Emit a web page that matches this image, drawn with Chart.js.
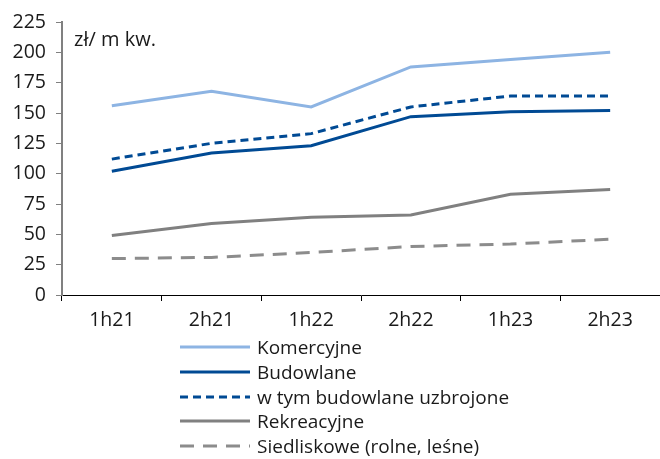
<!DOCTYPE html>
<html>
<head>
<meta charset="utf-8">
<script src="https://cdn.jsdelivr.net/npm/chart.js@4"></script>
<style>
  body { margin: 0; background: #fff; font-family: "Open Sans", sans-serif; }
  #wrap { position: relative; width: 660px; height: 459px; }
  #chartBox { position: absolute; left: 0; top: 0; width: 660px; height: 335px; }
  #legend { position: absolute; left: 180px; top: 335px; font-size: 19px; color: #1a1a1a; }
  .item { height: 24.7px; display: flex; align-items: center; }
  .item svg { width: 70px; height: 6px; margin-right: 7px; }
</style>
</head>
<body>
<div id="wrap">
  <div id="chartBox"><canvas id="landChart"></canvas></div>
  <div id="legend"></div>
</div>
<script>
// Data
const periods = ['1h21', '2h21', '1h22', '2h22', '1h23', '2h23'];
const komercyjne = [156, 168, 155, 188, 194, 200];
const budowlane = [102, 117, 123, 147, 151, 152];
const uzbrojone = [112, 125, 133, 155, 164, 164];
const rekreacyjne = [49, 59, 64, 66, 83, 87];
const siedliskowe = [30, 31, 35, 40, 42, 46];
const yTicks = [0, 25, 50, 75, 100, 125, 150, 175, 200, 225];

const seriesList = [
    { label: 'Komercyjne', data: komercyjne, color: '#8db4e3', dash: [] },
    { label: 'Budowlane', data: budowlane, color: '#004a94', dash: [] },
    { label: 'w tym budowlane uzbrojone', data: uzbrojone, color: '#004a94', dash: [8, 5] },
    { label: 'Rekreacyjne', data: rekreacyjne, color: '#808080', dash: [] },
    { label: 'Siedliskowe (rolne, leśne)', data: siedliskowe, color: '#8c8c8c', dash: [14, 9] }
];

// y axis unit label
const unitLabel = {
    id: 'unitLabel',
    afterDraw(chart) {
        const ctx = chart.ctx;
        ctx.save();
        ctx.font = '20px "Open Sans"';
        ctx.fillStyle = '#1a1a1a';
        ctx.textBaseline = 'middle';
        ctx.fillText('zł/ m kw.', 74, 40);
        ctx.restore();
    }
};

const ctx = document.getElementById('landChart').getContext('2d');
new Chart(ctx, {
    type: 'line',
    data: {
        labels: periods,
        datasets: seriesList.map(s => ({
            label: s.label,
            data: s.data,
            borderColor: s.color,
            borderDash: s.dash,
            borderWidth: 3,
            pointRadius: 0,
            tension: 0,
            fill: false
        }))
    },
    options: {
        responsive: true,
        maintainAspectRatio: false,
        animation: false,
        layout: { padding: { top: 22, right: 0, left: 0, bottom: 0 } },
        plugins: { legend: { display: false }, tooltip: { enabled: false } },
        scales: {
            x: {
                offset: true,
                grid: { offset: true, drawOnChartArea: false, drawTicks: true, tickLength: 6, color: '#000' },
                border: { color: '#000', width: 1 },
                ticks: { color: '#1a1a1a', font: { family: 'Open Sans', size: 19.5 }, padding: 8 },
                afterFit(scale) { scale.height = 40; }
            },
            y: {
                min: 0,
                max: 225,
                afterBuildTicks(scale) { scale.ticks = yTicks.map(v => ({ value: v })); },
                grid: { drawOnChartArea: false, drawTicks: true, tickLength: 6, color: '#808080' },
                border: { color: '#808080', width: 2 },
                ticks: { color: '#1a1a1a', font: { family: 'Open Sans', size: 19.5 }, padding: 10 },
                afterFit(scale) { scale.width = 62; }
            }
        }
    },
    plugins: [unitLabel]
});

// HTML legend
const legend = document.getElementById('legend');
seriesList.forEach(s => {
    const row = document.createElement('div');
    row.className = 'item';
    row.innerHTML = '<svg viewBox="0 0 70 6"><line x1="0" y1="3" x2="70" y2="3" stroke="' + s.color +
        '" stroke-width="3" stroke-dasharray="' + (s.dash.length ? s.dash.join(' ') : 'none') + '"/></svg>' +
        '<span>' + s.label + '</span>';
    legend.appendChild(row);
});
</script>
</body>
</html>
